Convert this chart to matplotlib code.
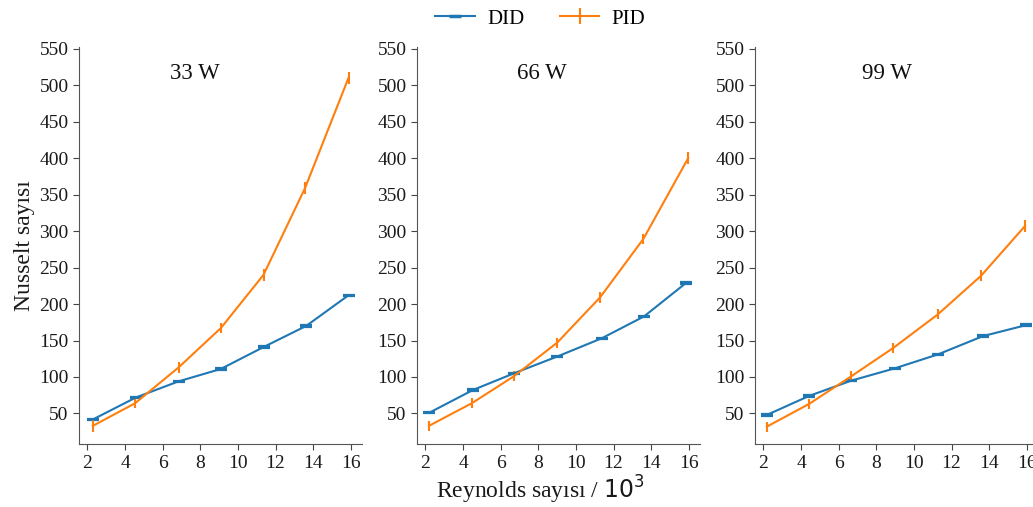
import numpy as np
import matplotlib
matplotlib.use("Agg")
import matplotlib.pyplot as plt
from matplotlib.lines import Line2D

plt.rcParams['font.family'] = ['Liberation Serif', 'DejaVu Serif']

# === DATA ===
titles = ['33 W', '66 W', '99 W']

re_did = [
    [2.3, 4.58, 6.84, 9.09, 11.36, 13.63, 15.88],
    [2.2, 4.51, 6.70, 9.0, 11.37, 13.62, 15.86],
    [2.18, 4.42, 6.67, 9.0, 11.28, 13.67, 15.95],
]
nu_did = [
    [42, 72, 94, 111, 141, 170, 212],
    [51, 82, 105, 128, 153, 183, 229],
    [48, 74, 95, 112, 131, 156, 171],
]
err_did = [
    [1.0, 1.0, 1.0, 1.0, 1.0, 1.0, 1.0],
    [1.0, 1.0, 1.0, 1.0, 1.0, 1.0, 1.0],
    [1.0, 1.0, 1.0, 1.0, 1.0, 1.0, 1.0],
]

re_pid = [
    [2.28, 4.53, 6.84, 9.09, 11.36, 13.57, 15.88],
    [2.18, 4.46, 6.70, 9.0, 11.28, 13.58, 15.97],
    [2.18, 4.42, 6.67, 8.91, 11.28, 13.58, 15.91],
]
nu_pid = [
    [33, 64, 113, 167, 240, 359, 510],
    [33, 64, 101, 147, 209, 289, 400],
    [32, 63, 101, 140, 186, 239, 307],
]
err_pid = [
    [8, 7, 7, 7, 8, 8, 8],
    [7, 7, 7, 7, 7, 7, 8],
    [7, 7, 7, 7, 7, 7, 8],
]

yticks = [50, 100, 150, 200, 250, 300, 350, 400, 450, 500, 550]
xticks = [2, 4, 6, 8, 10, 12, 14, 16]

BLUE = '#1f77b4'
ORANGE = '#ff7f0e'

fig = plt.figure(figsize=(10.33, 5.07), dpi=100)
lefts = [0.0765, 0.4037, 0.7309]
title_x = [0.41, 0.44, 0.466]

for i in range(3):
    ax = fig.add_axes([lefts[i], 0.124, 0.274, 0.783])
    ax.errorbar(re_did[i], nu_did[i], yerr=err_did[i], color=BLUE, lw=1.5,
                capsize=4, capthick=1.6, elinewidth=1.5)
    ax.errorbar(re_pid[i], nu_pid[i], yerr=err_pid[i], color=ORANGE, lw=1.5,
                elinewidth=1.5)
    ax.set_ylim(8, 552)
    ax.set_xlim(1.55, 16.6)
    ax.set_yticks(yticks)
    ax.set_xticks(xticks)
    ax.tick_params(labelsize=14, length=4, color='#444444', labelcolor='#1a1a1a')
    for s in ['top', 'right']:
        ax.spines[s].set_visible(False)
    for s in ['left', 'bottom']:
        ax.spines[s].set_color('#555555')
    ax.text(title_x[i], 0.934, titles[i], transform=ax.transAxes,
            ha='center', va='center', fontsize=16.5, color='#111111')
    if i == 0:
        ax.set_ylabel('Nusselt sayısı', fontsize=17, color='#1a1a1a', labelpad=3)

handles = [
    Line2D([], [], color=BLUE, lw=1.5, marker='_', markersize=8, mew=2.5),
    Line2D([], [], color=ORANGE, lw=1.5, marker='|', markersize=11, mew=1.5),
]
fig.legend(handles, ['DID', 'PID'], loc='center', bbox_to_anchor=(0.523, 0.963),
           ncol=2, frameon=False, fontsize=15, handlelength=1.9, columnspacing=1.7,
           handletextpad=0.6)

fig.text(0.523, 0.033, r'Reynolds sayısı / $10^3$', ha='center', va='center',
         fontsize=17, color='#1a1a1a')

fig.savefig('out.png', dpi=100)
